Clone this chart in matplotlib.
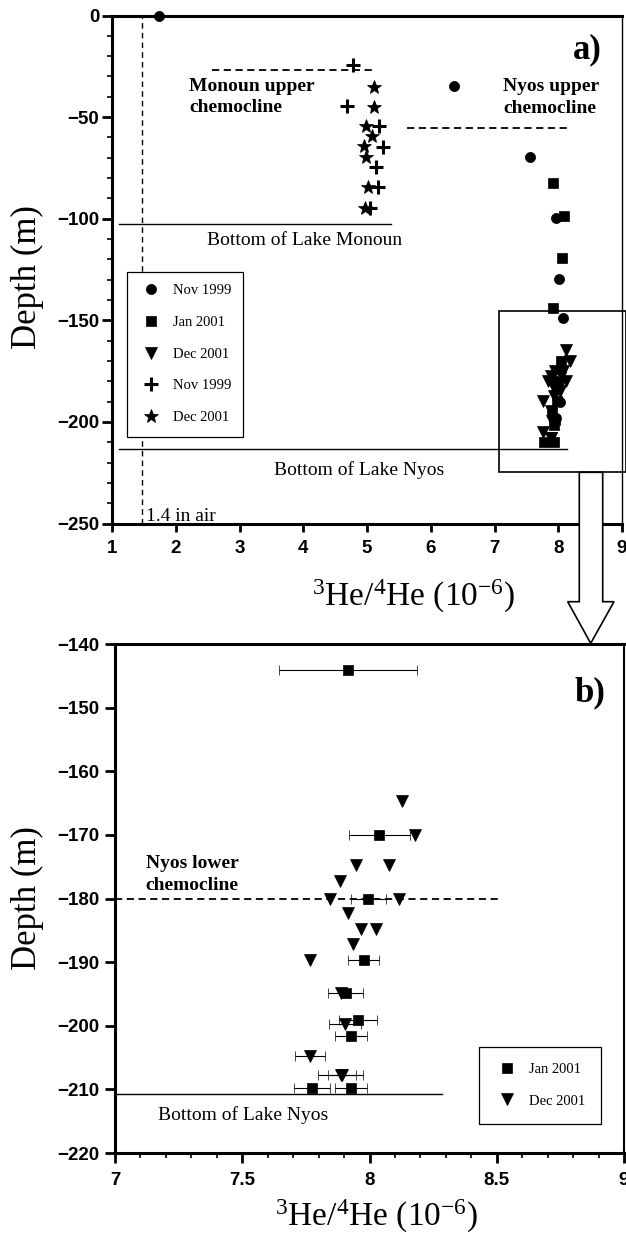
import matplotlib.pyplot as plt
import numpy as np
from matplotlib.lines import Line2D
from matplotlib.patches import Polygon, Rectangle
from matplotlib.ticker import FormatStrFormatter, MultipleLocator

plt.rcParams["font.family"] = ["Liberation Serif", "DejaVu Serif"]
plt.rcParams["mathtext.fontset"] = "custom"
plt.rcParams["mathtext.rm"] = "Liberation Serif"
plt.rcParams["mathtext.it"] = "Liberation Serif:italic"

nan = np.nan

# Lake Nyos, Nov 1999 (circles)
nyos_nov99_ratio = [1.74, 6.36, 7.55, 7.96, 8.01, 8.08, 8.05, 8.03, 7.97]
nyos_nov99_depth = [0, -34.7, -69.5, -99.8, -129.8, -149.0, -175.0, -190.0, -198.2]

# Lake Nyos, Jan 2001 (squares)
nyos_jan01_ratio = [7.91, 8.09, 8.06, 7.916, 8.038, 7.996, 7.977, 7.906, 7.956, 7.927, 7.775, 7.927]
nyos_jan01_depth = [-82.6, -98.7, -119.5, -144.1, -170.0, -180.1, -189.7, -194.8, -199.1, -201.6, -209.8, -209.8]
nyos_jan01_err = [nan, nan, nan, 0.27, 0.12, 0.068, 0.062, 0.07, 0.074, 0.063, 0.07, 0.064]

# Lake Nyos, Dec 2001 (triangles)
nyos_dec01_ratio = [8.127, 8.178, 7.945, 8.077, 7.885, 7.845, 8.114, 7.916, 7.967, 8.027,
                    7.936, 7.766, 7.888, 7.903, 7.766, 7.887, 7.89]
nyos_dec01_depth = [-164.7, -170.0, -174.8, -174.8, -177.2, -180.1, -180.1, -182.3, -184.8, -184.8,
                    -187.1, -189.7, -194.8, -199.7, -204.8, -207.7, -207.7]
nyos_dec01_err = [nan] * 13 + [0.063, 0.058, 0.089, 0.055]

# Lake Monoun, Nov 1999 (plus) and Dec 2001 (star)
monoun_nov99_ratio = [4.785, 4.69, 5.19, 5.25, 5.14, 5.18, 5.05]
monoun_nov99_depth = [-24.4, -44.5, -54.4, -64.6, -74.7, -84.5, -94.9]
monoun_dec01_ratio = [5.11, 5.11, 4.99, 5.08, 4.96, 4.99, 5.02, 4.97]
monoun_dec01_depth = [-35.3, -44.9, -54.4, -59.3, -64.2, -69.5, -84.5, -94.9]

# reference levels
air_ratio = 1.47
monoun_upper_chemo = -27.0
nyos_upper_chemo = -55.2
nyos_lower_chemo = -180.0
monoun_bottom = -102.8
nyos_bottom_a = -213.5
nyos_bottom_b = -210.7

TICK_FONT = ["Liberation Sans Narrow", "Liberation Sans", "DejaVu Sans"]
MK = dict(color="black", linestyle="none", markeredgewidth=0.5)


def style_ticks(ax, size=13.5):
    for lab in ax.get_xticklabels() + ax.get_yticklabels():
        lab.set_fontweight("bold")
        lab.set_family(TICK_FONT)
        lab.set_fontsize(size)


W, H = 626, 1236
fig = plt.figure(figsize=(W / 100, H / 100), dpi=100)
ax_a = fig.add_axes([112 / W, 1 - 523.5 / H, 510 / W, 508 / H])
ax_b = fig.add_axes([115 / W, 1 - 1153 / H, 509 / W, 509 / H])

# ---------- panel a ----------
ax = ax_a
ax.set_xlim(1, 9)
ax.set_ylim(-250, 0)
ax.set_xticks(range(1, 10))
ax.set_yticks(range(-250, 1, 50))
ax.yaxis.set_minor_locator(MultipleLocator(10))
ax.tick_params(axis="y", which="major", direction="out", length=7, width=2, pad=2)
ax.tick_params(axis="y", which="minor", direction="out", length=3.5, width=1.2)
ax.tick_params(axis="x", which="major", direction="out", length=6, width=2, pad=6)
for side in ["left", "bottom", "top"]:
    ax.spines[side].set_linewidth(2.2)
ax.spines["right"].set_linewidth(1.0)
style_ticks(ax)

ax.axvline(air_ratio, color="black", lw=1.0, linestyle=(0, (4, 3)))
ax.plot([2.57, 5.08], [monoun_upper_chemo] * 2, color="black", lw=1.3, linestyle=(0, (4, 2.5)))
ax.plot([5.63, 8.13], [nyos_upper_chemo] * 2, color="black", lw=1.3, linestyle=(0, (4, 2.5)))
ax.plot([1.11, 5.38], [monoun_bottom] * 2, color="black", lw=1.0)
ax.plot([1.11, 8.14], [nyos_bottom_a] * 2, color="black", lw=1.0)

ax.plot(nyos_nov99_ratio, nyos_nov99_depth, marker="o", markersize=7.3, clip_on=False, zorder=5, **MK)
ax.plot(nyos_jan01_ratio, nyos_jan01_depth, marker="s", markersize=7.9, clip_on=False, zorder=5, **MK)
ax.plot(nyos_dec01_ratio, nyos_dec01_depth, marker="v", markersize=8.3, clip_on=False, zorder=5, **MK)
ax.plot(monoun_nov99_ratio, monoun_nov99_depth, marker="+", markersize=10, color="black",
        linestyle="none", markeredgewidth=2.2, zorder=5)
ax.plot(monoun_dec01_ratio, monoun_dec01_depth, marker="*", markersize=10.5, zorder=5, **MK)

ax.add_patch(Rectangle((7.07, -224.8), 1.99, 79.5, fill=False, edgecolor="black", lw=1.2,
                       clip_on=False, zorder=6))

ax.text(2.21, -40.0, "Monoun upper\nchemocline", fontsize=14, fontweight="bold",
        ha="left", va="center", linespacing=1.35)
ax.text(7.14, -40.4, "Nyos upper\nchemocline", fontsize=14, fontweight="bold",
        ha="left", va="center", linespacing=1.35)
ax.text(4.02, -110.5, "Bottom of Lake Monoun", fontsize=14, ha="center", va="center")
ax.text(4.88, -223.7, "Bottom of Lake Nyos", fontsize=14, ha="center", va="center")
ax.text(1.53, -246.6, "1.4 in air", fontsize=14, ha="left", va="center")
ax.text(8.45, -17, "a)", fontsize=25, fontweight="bold", ha="center", va="center")

xlabel = r"$^{3}$He/$^{4}$He (10$^{-6}$)"
ax.set_xlabel(xlabel, fontsize=24, va="center")
ax.xaxis.set_label_coords(0.592, -0.144)
ax.set_ylabel("Depth (m)", fontsize=25, va="center")
ax.yaxis.set_label_coords(-0.166, 0.485)

handles_a = [
    Line2D([], [], marker="o", markersize=7.3, **MK),
    Line2D([], [], marker="s", markersize=7.9, **MK),
    Line2D([], [], marker="v", markersize=8.3, **MK),
    Line2D([], [], marker="+", markersize=10, color="black", linestyle="none", markeredgewidth=2.2),
    Line2D([], [], marker="*", markersize=10.5, **MK),
]
leg = ax.legend(handles_a, ["Nov 1999", "Jan 2001", "Dec 2001", "Nov 1999", "Dec 2001"],
                loc="upper left", bbox_to_anchor=(0.0288, 0.4957), borderaxespad=0,
                fontsize=10.5, labelspacing=1.27, borderpad=0.85, handlelength=1.7,
                handletextpad=0.6, fancybox=False, framealpha=1, edgecolor="black")
leg.get_frame().set_linewidth(0.9)

# ---------- panel b ----------
ax = ax_b
ax.set_xlim(7, 9)
ax.set_ylim(-220, -140)
ax.set_xticks([7, 7.5, 8, 8.5, 9])
ax.xaxis.set_major_formatter(FormatStrFormatter("%g"))
ax.xaxis.set_minor_locator(MultipleLocator(0.1))
ax.set_yticks(range(-220, -139, 10))
ax.tick_params(axis="y", which="major", direction="out", length=7, width=2, pad=4)
ax.tick_params(axis="x", which="major", direction="out", length=7, width=2, pad=7)
ax.tick_params(axis="x", which="minor", direction="out", length=3.5, width=1.2)
for side in ["left", "bottom", "top"]:
    ax.spines[side].set_linewidth(2.2)
ax.spines["right"].set_linewidth(1.5)
style_ticks(ax)

ax.plot([7, 8.504], [nyos_lower_chemo] * 2, color="black", lw=1.3, linestyle=(0, (4, 2.5)))
ax.plot([7, 8.283], [nyos_bottom_b] * 2, color="black", lw=1.0)

ax.errorbar(nyos_jan01_ratio, nyos_jan01_depth, xerr=nyos_jan01_err, fmt="s", markersize=7.9,
            color="black", markeredgewidth=0.5, ecolor="black", elinewidth=0.8, capsize=3.5,
            capthick=0.8, zorder=4)
ax.errorbar(nyos_dec01_ratio, nyos_dec01_depth, xerr=nyos_dec01_err, fmt="v", markersize=8.3,
            color="black", markeredgewidth=0.5, ecolor="black", elinewidth=0.8, capsize=3.5,
            capthick=0.8, zorder=4)

ax.text(7.12, -176.2, "Nyos lower\nchemocline", fontsize=14, fontweight="bold",
        ha="left", va="center", linespacing=1.35)
ax.text(7.168, -214.0, "Bottom of Lake Nyos", fontsize=14, ha="left", va="center")
ax.text(8.866, -147.7, "b)", fontsize=25, fontweight="bold", ha="center", va="center")

ax.set_xlabel(xlabel, fontsize=24, va="center")
ax.xaxis.set_label_coords(0.514, -0.125)
ax.set_ylabel("Depth (m)", fontsize=25, va="center")
ax.yaxis.set_label_coords(-0.172, 0.5)

handles_b = [
    Line2D([], [], marker="s", markersize=7.9, **MK),
    Line2D([], [], marker="v", markersize=8.3, **MK),
]
leg = ax.legend(handles_b, ["Jan 2001", "Dec 2001"], loc="upper left",
                bbox_to_anchor=(0.715, 0.209), borderaxespad=0, fontsize=10.5,
                labelspacing=1.27, borderpad=1.1, handlelength=1.7, handletextpad=0.6,
                fancybox=False, framealpha=1, edgecolor="black")
leg.get_frame().set_linewidth(0.9)

# hollow arrow linking the inset box to panel b
arrow_px = [(579.3, 472.3), (602.7, 472.3), (602.7, 601.7), (614.0, 601.7),
            (590.7, 643.3), (567.7, 601.7), (579.3, 601.7)]
arrow = Polygon([(x / W, 1 - y / H) for x, y in arrow_px], closed=True,
                facecolor="white", edgecolor="black", lw=1.2,
                transform=fig.transFigure, zorder=10)
fig.patches.append(arrow)

fig.savefig("out.png", dpi=100)
